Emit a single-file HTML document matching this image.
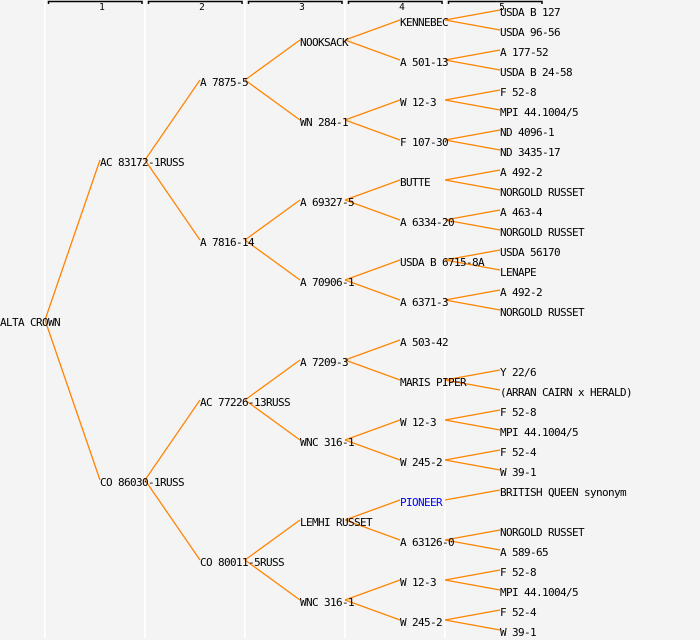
<!DOCTYPE html>
<html>
<head>
<meta charset="utf-8">
<style>
html,body{margin:0;padding:0;background:#f4f4f4;}
svg{display:block;}
text{font-family:"DejaVu Sans Mono","Liberation Mono",monospace;font-size:11px;letter-spacing:-0.62px;fill:#000;}
.h{font-size:9.5px;letter-spacing:0;text-anchor:middle;}
</style>
</head>
<body>
<svg width="700" height="640" viewBox="0 0 700 640" xmlns="http://www.w3.org/2000/svg">
<rect x="0" y="0" width="700" height="640" fill="#f4f4f4"/>
<g fill="#ffffff">
<rect x="44" y="0" width="1.5" height="638"/>
<rect x="144" y="0" width="1.5" height="638"/>
<rect x="244" y="0" width="1.5" height="638"/>
<rect x="344" y="0" width="1.5" height="638"/>
<rect x="444" y="0" width="1.5" height="638"/>
</g>
<g fill="none" stroke="#000" stroke-width="1.5">
<path d="M48.5,4 V1.5 H142 V4"/>
<path d="M148.5,4 V1.5 H242 V4"/>
<path d="M248.5,4 V1.5 H342 V4"/>
<path d="M348.5,4 V1.5 H442 V4"/>
<path d="M448.5,4 V1.5 H542 V4"/>
</g>
<text class="h" x="102" y="10">1</text>
<text class="h" x="202" y="10">2</text>
<text class="h" x="302" y="10">3</text>
<text class="h" x="402" y="10">4</text>
<text class="h" x="502" y="10">5</text>

<g stroke="#ff8400" stroke-width="1.3" fill="none">
<!-- level 0 -> 1 -->
<line x1="45" y1="320" x2="100" y2="160"/>
<line x1="45" y1="320" x2="100" y2="480"/>
<!-- level 1 -> 2 -->
<line x1="145" y1="160" x2="200" y2="80"/>
<line x1="145" y1="160" x2="200" y2="240"/>
<line x1="145" y1="480" x2="200" y2="400"/>
<line x1="145" y1="480" x2="200" y2="560"/>
<!-- level 2 -> 3 -->
<line x1="245" y1="80" x2="300" y2="40"/>
<line x1="245" y1="80" x2="300" y2="120"/>
<line x1="245" y1="240" x2="300" y2="200"/>
<line x1="245" y1="240" x2="300" y2="280"/>
<line x1="245" y1="400" x2="300" y2="360"/>
<line x1="245" y1="400" x2="300" y2="440"/>
<line x1="245" y1="560" x2="300" y2="520"/>
<line x1="245" y1="560" x2="300" y2="600"/>
<!-- level 3 -> 4 -->
<line x1="345" y1="40" x2="400" y2="20"/>
<line x1="345" y1="40" x2="400" y2="60"/>
<line x1="345" y1="120" x2="400" y2="100"/>
<line x1="345" y1="120" x2="400" y2="140"/>
<line x1="345" y1="200" x2="400" y2="180"/>
<line x1="345" y1="200" x2="400" y2="220"/>
<line x1="345" y1="280" x2="400" y2="260"/>
<line x1="345" y1="280" x2="400" y2="300"/>
<line x1="345" y1="360" x2="400" y2="340"/>
<line x1="345" y1="360" x2="400" y2="380"/>
<line x1="345" y1="440" x2="400" y2="420"/>
<line x1="345" y1="440" x2="400" y2="460"/>
<line x1="345" y1="520" x2="400" y2="500"/>
<line x1="345" y1="520" x2="400" y2="540"/>
<line x1="345" y1="600" x2="400" y2="580"/>
<line x1="345" y1="600" x2="400" y2="620"/>
<!-- level 4 -> 5 -->
<line x1="445" y1="20" x2="500" y2="10"/>
<line x1="445" y1="20" x2="500" y2="30"/>
<line x1="445" y1="60" x2="500" y2="50"/>
<line x1="445" y1="60" x2="500" y2="70"/>
<line x1="445" y1="100" x2="500" y2="90"/>
<line x1="445" y1="100" x2="500" y2="110"/>
<line x1="445" y1="140" x2="500" y2="130"/>
<line x1="445" y1="140" x2="500" y2="150"/>
<line x1="445" y1="180" x2="500" y2="170"/>
<line x1="445" y1="180" x2="500" y2="190"/>
<line x1="445" y1="220" x2="500" y2="210"/>
<line x1="445" y1="220" x2="500" y2="230"/>
<line x1="445" y1="260" x2="500" y2="250"/>
<line x1="445" y1="260" x2="500" y2="270"/>
<line x1="445" y1="300" x2="500" y2="290"/>
<line x1="445" y1="300" x2="500" y2="310"/>
<line x1="445" y1="380" x2="500" y2="370"/>
<line x1="445" y1="380" x2="500" y2="390"/>
<line x1="445" y1="420" x2="500" y2="410"/>
<line x1="445" y1="420" x2="500" y2="430"/>
<line x1="445" y1="460" x2="500" y2="450"/>
<line x1="445" y1="460" x2="500" y2="470"/>
<line x1="445" y1="500" x2="500" y2="490"/>
<line x1="445" y1="540" x2="500" y2="530"/>
<line x1="445" y1="540" x2="500" y2="550"/>
<line x1="445" y1="580" x2="500" y2="570"/>
<line x1="445" y1="580" x2="500" y2="590"/>
<line x1="445" y1="620" x2="500" y2="610"/>
<line x1="445" y1="620" x2="500" y2="630"/>
</g>

<!-- level 0 -->
<text x="0" y="326">ALTA CROWN</text>
<!-- level 1 -->
<text x="100" y="166">AC 83172-1RUSS</text>
<text x="100" y="486">CO 86030-1RUSS</text>
<!-- level 2 -->
<text x="200" y="86">A 7875-5</text>
<text x="200" y="246">A 7816-14</text>
<text x="200" y="406">AC 77226-13RUSS</text>
<text x="200" y="566">CO 80011-5RUSS</text>
<!-- level 3 -->
<text x="300" y="46">NOOKSACK</text>
<text x="300" y="126">WN 284-1</text>
<text x="300" y="206">A 69327-5</text>
<text x="300" y="286">A 70906-1</text>
<text x="300" y="366">A 7209-3</text>
<text x="300" y="446">WNC 316-1</text>
<text x="300" y="526">LEMHI RUSSET</text>
<text x="300" y="606">WNC 316-1</text>
<!-- level 4 -->
<text x="400" y="26">KENNEBEC</text>
<text x="400" y="66">A 501-13</text>
<text x="400" y="106">W 12-3</text>
<text x="400" y="146">F 107-30</text>
<text x="400" y="186">BUTTE</text>
<text x="400" y="226">A 6334-20</text>
<text x="400" y="266">USDA B 6715-8A</text>
<text x="400" y="306">A 6371-3</text>
<text x="400" y="346">A 503-42</text>
<text x="400" y="386">MARIS PIPER</text>
<text x="400" y="426">W 12-3</text>
<text x="400" y="466">W 245-2</text>
<text x="400" y="506" style="fill:#0000ff">PIONEER</text>
<text x="400" y="546">A 63126-0</text>
<text x="400" y="586">W 12-3</text>
<text x="400" y="626">W 245-2</text>
<!-- level 5 -->
<text x="500" y="16">USDA B 127</text>
<text x="500" y="36">USDA 96-56</text>
<text x="500" y="56">A 177-52</text>
<text x="500" y="76">USDA B 24-58</text>
<text x="500" y="96">F 52-8</text>
<text x="500" y="116">MPI 44.1004/5</text>
<text x="500" y="136">ND 4096-1</text>
<text x="500" y="156">ND 3435-17</text>
<text x="500" y="176">A 492-2</text>
<text x="500" y="196">NORGOLD RUSSET</text>
<text x="500" y="216">A 463-4</text>
<text x="500" y="236">NORGOLD RUSSET</text>
<text x="500" y="256">USDA 56170</text>
<text x="500" y="276">LENAPE</text>
<text x="500" y="296">A 492-2</text>
<text x="500" y="316">NORGOLD RUSSET</text>
<text x="500" y="376">Y 22/6</text>
<text x="500" y="396">(ARRAN CAIRN x HERALD)</text>
<text x="500" y="416">F 52-8</text>
<text x="500" y="436">MPI 44.1004/5</text>
<text x="500" y="456">F 52-4</text>
<text x="500" y="476">W 39-1</text>
<text x="500" y="496">BRITISH QUEEN synonym</text>
<text x="500" y="536">NORGOLD RUSSET</text>
<text x="500" y="556">A 589-65</text>
<text x="500" y="576">F 52-8</text>
<text x="500" y="596">MPI 44.1004/5</text>
<text x="500" y="616">F 52-4</text>
<text x="500" y="636">W 39-1</text>
</svg>
</body>
</html>
